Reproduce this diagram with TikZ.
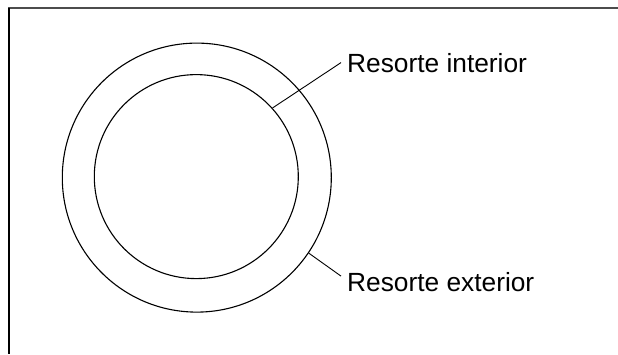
\documentclass[tikz,border=0pt]{standalone}
\usepackage{fontspec}
\setmainfont{Liberation Sans}
\begin{document}
\begin{tikzpicture}[x=1pt,y=-1pt,
  ring/.style={circle,draw,line width=1.1pt,inner sep=0pt},
  lbl/.style={anchor=base west,inner sep=0pt,font=\fontsize{26.3}{30}\selectfont},
  leader/.style={line width=0.9pt}]
\useasboundingbox (0,0) rectangle (618,354);
\draw[line width=2pt,black!70] (8,8) -- (618,8);
\draw[line width=1.4pt] (9,7.5) -- (9,354);
\node[ring,minimum size=269pt] (outer) at (196.8,177.6) {};
\node[ring,minimum size=204pt] (inner) at (196.3,176.6) {};
\node[lbl] (intlabel) at (347,72) {Resorte interior};
\node[lbl] (extlabel) at (347,291) {Resorte exterior};
\draw[leader] (inner.42) -- ([xshift=-6pt]intlabel.west);
\draw[leader] (outer.-34) -- ([xshift=-6pt,yshift=5.5pt]extlabel.west);
\end{tikzpicture}
\end{document}
